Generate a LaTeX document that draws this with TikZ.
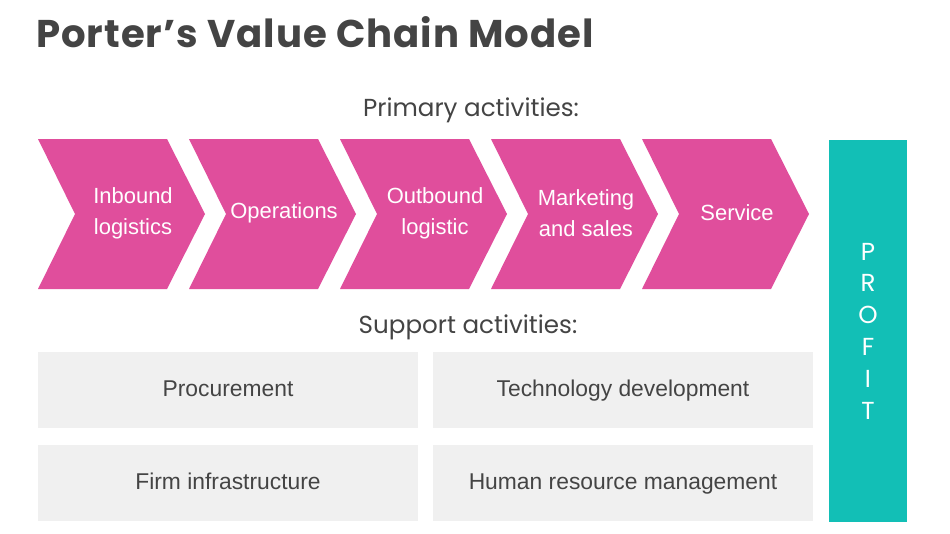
\documentclass[tikz,border=0pt]{standalone}
\usepackage{fontspec}
\setmainfont{Liberation Sans}
\newfontfamily\headfont{Poppins}
\newfontfamily\titlefont[LetterSpace=2.5]{Poppins}
\usepackage{xcolor}
\usetikzlibrary{positioning}

\definecolor{chainpink}{HTML}{E04E9C}
\definecolor{profitteal}{HTML}{12BFB6}
\definecolor{boxgray}{HTML}{F0F0F0}
\definecolor{textgray}{HTML}{444444}

\begin{document}
\begin{tikzpicture}[x=0.02cm,y=-0.02cm,
  chevtext/.style={text=white,align=center,inner sep=0,font=\fontsize{12.5}{17.6}\selectfont},
  supbox/.style={fill=boxgray,text=textgray,minimum width=7.6cm,minimum height=1.54cm,inner sep=0,text height=0.9em,text depth=0.2em,font=\fontsize{13}{15}\selectfont},
  headtext/.style={text=textgray,inner sep=0,font=\headfont\fontsize{14}{16}\selectfont}]
\useasboundingbox[fill=white] (0,0) rectangle (950,534);
\node[anchor=base west,inner sep=0,text=textgray,font=\titlefont\bfseries\fontsize{22}{25}\selectfont] (title) at (36,47) {Porter’s Value Chain Model};
\node[headtext,anchor=base] (primary) at (471,116) {Primary activities:};
\node[headtext,anchor=base] (support) at (468,333) {Support activities:};
% primary chain
\foreach \x/\name/\txt in {38/inbound/{Inbound\\logistics},189/operations/{Operations},340/outbound/{Outbound\\logistic},491/marketing/{Marketing\\and sales},642/service/{Service}}{
  \fill[chainpink] (\x,139) -- (\x+129,139) -- (\x+167,214) -- (\x+129,289) -- (\x,289) -- (\x+37,214) -- cycle;
  \node[chevtext] (\name) at (\x+95,213) {\txt};
}
% support activities
\node[supbox] (procurement) at (228,390) {Procurement};
\node[supbox] (technology) at (623,390) {Technology development};
\node[supbox] (infrastructure) at (228,483) {Firm infrastructure};
\node[supbox] (human) at (623,483) {Human resource management};
% profit
\node[fill=profitteal,minimum width=1.56cm,minimum height=7.64cm,inner sep=0] (profit) at (868,331) {};
\node[text=white,align=center,inner sep=0,font=\headfont\fontsize{14}{18.1}\selectfont] (profitword) at (profit.center) {P\\R\\O\\F\\I\\T};
\end{tikzpicture}
\end{document}
